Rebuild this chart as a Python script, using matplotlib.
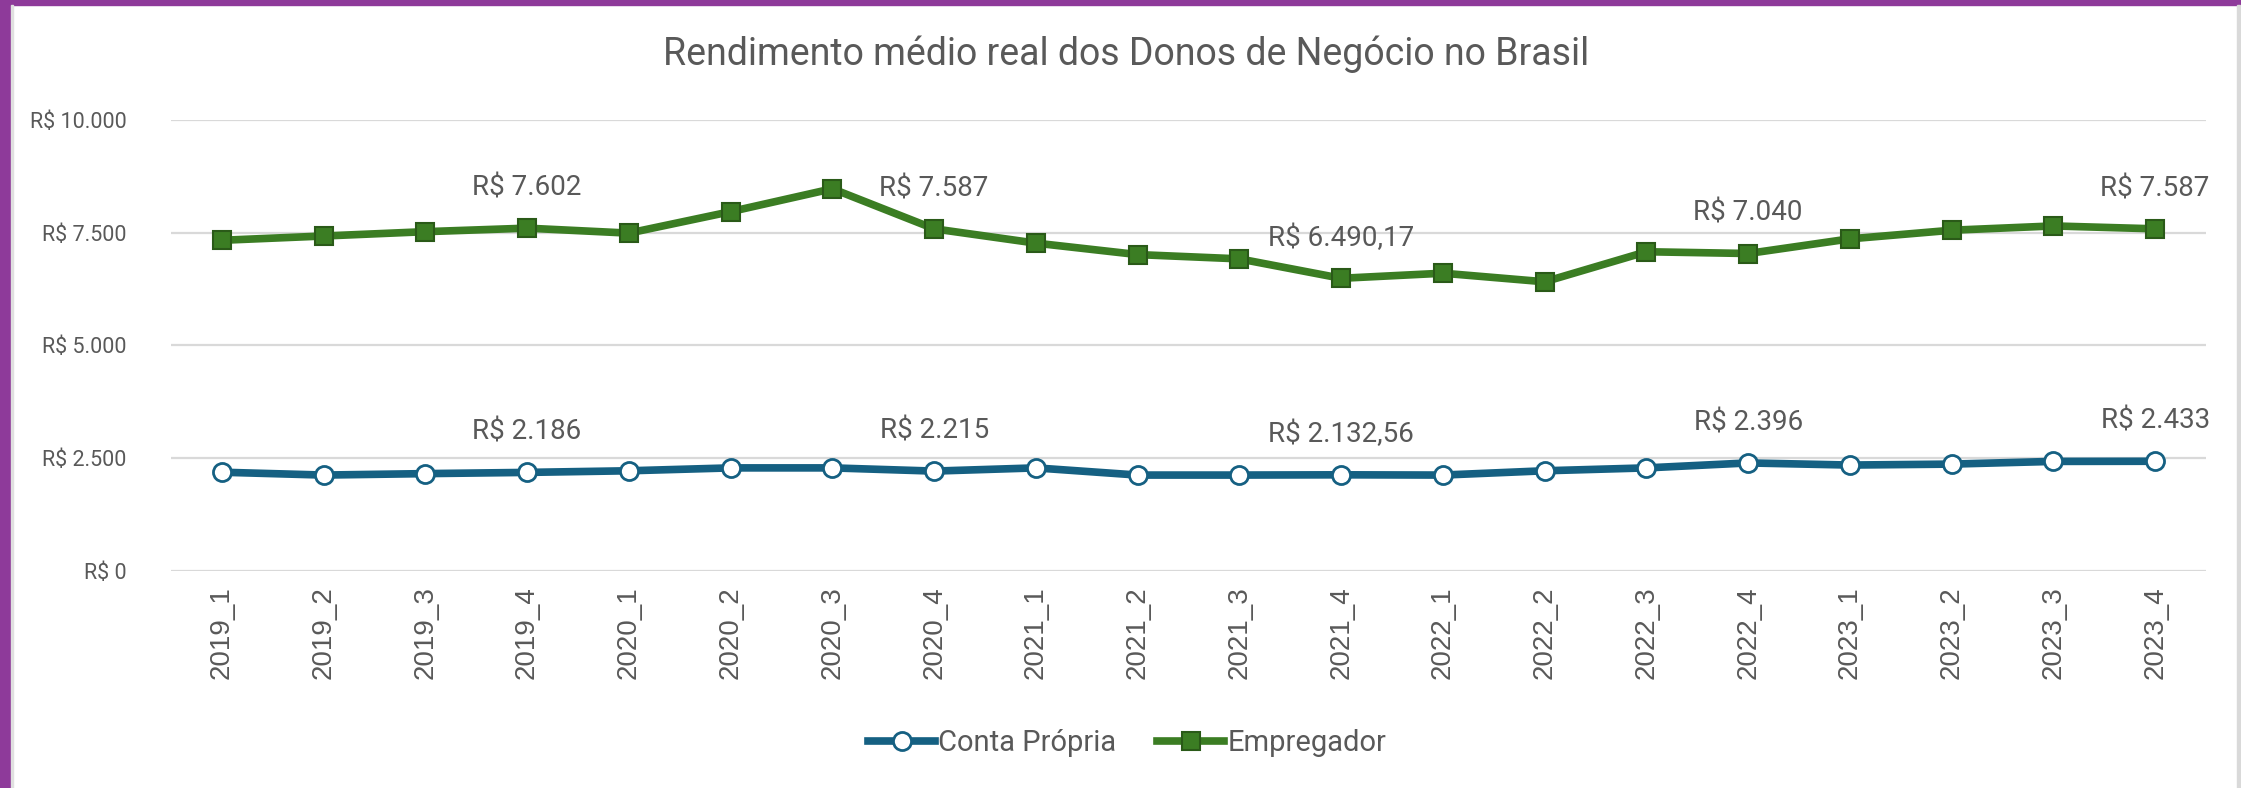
import matplotlib.pyplot as plt
from matplotlib.patches import Rectangle
from matplotlib.ticker import FuncFormatter

# data
periodos = ['2019_1', '2019_2', '2019_3', '2019_4', '2020_1', '2020_2', '2020_3', '2020_4',
            '2021_1', '2021_2', '2021_3', '2021_4', '2022_1', '2022_2', '2022_3', '2022_4',
            '2023_1', '2023_2', '2023_3', '2023_4']
conta_propria = [2190, 2127, 2159, 2186, 2222, 2286, 2286, 2215, 2286, 2127,
                 2127, 2132.56, 2127, 2222, 2286, 2396, 2349, 2370, 2430, 2433]
empregador = [7333, 7428, 7524, 7602, 7492, 7968, 8476, 7587, 7270, 7016,
              6921, 6490.17, 6603, 6413, 7079, 7040, 7365, 7556, 7651, 7587]
rotulos_idx = [3, 7, 11, 15, 19]

narrow = ['Roboto', 'DejaVu Sans']
cinza = '#595959'
azul = '#156082'
verde = '#3B7D23'


def brl(v):
    if v == int(v):
        s = f'{int(v):,}'.replace(',', '.')
    else:
        s = f'{v:,.2f}'.replace(',', 'X').replace('.', ',').replace('X', '.')
    return 'R$ ' + s


fig = plt.figure(figsize=(22.41, 7.88), dpi=100, facecolor='white')
ax = fig.add_axes([0.0763, 0.2754, 0.9081, 0.5723])

x = list(range(len(periodos)))
ax.plot(x, conta_propria, color=azul, lw=5.5, marker='o', ms=13,
        mfc='white', mec=azul, mew=2, label='Conta Própria', zorder=3)
ax.plot(x, empregador, color=verde, lw=5.5, marker='s', ms=13,
        mfc=verde, mec='#2A5A18', mew=1.5, label='Empregador', zorder=3)

for i in rotulos_idx:
    for serie in (conta_propria, empregador):
        ax.annotate(brl(serie[i]), (x[i], serie[i]), xytext=(0, 29),
                    textcoords='offset points', ha='center', va='center',
                    fontsize=20, color=cinza, family=narrow)

ax.set_xlim(-0.5, len(periodos) - 0.5)
ax.set_ylim(0, 10000)
ax.set_yticks([0, 2500, 5000, 7500, 10000])
ax.yaxis.set_major_formatter(FuncFormatter(lambda v, p: brl(v)))
ax.set_xticks(x)
ax.set_xticklabels(periodos, rotation=90, fontsize=20, color=cinza,
                   family='Liberation Sans')
for lab in ax.get_yticklabels():
    lab.set_family(narrow)
    lab.set_fontsize(15.5)
    lab.set_color(cinza)
ax.tick_params(axis='both', length=0)
ax.tick_params(axis='x', pad=11)
ax.tick_params(axis='y', pad=32)
ax.grid(axis='y', color='#D9D9D9', lw=1.6)
ax.set_axisbelow(True)
for s in ax.spines.values():
    s.set_visible(False)

fig.text(0.5026, 0.931, 'Rendimento médio real dos Donos de Negócio no Brasil',
         ha='center', va='center', fontsize=27, color=cinza, family=narrow)

leg = fig.legend(loc='center', bbox_to_anchor=(0.503, 0.057), ncol=2, frameon=False,
                 prop={'family': narrow, 'size': 21}, handlelength=2.3,
                 handletextpad=0.1, columnspacing=1.4)
for t in leg.get_texts():
    t.set_color(cinza)

# purple frame bits from the screenshot edges
W, H = 2241, 788
fig.add_artist(Rectangle((0, 1 - 5 / H), 1, 5 / H, transform=fig.transFigure,
                         color='#8E3A9A', zorder=0))
fig.add_artist(Rectangle((0, 0), 11 / W, 1, transform=fig.transFigure,
                         color='#8E3A9A', zorder=0))
fig.add_artist(Rectangle((11 / W, 0), 2 / W, 1 - 5 / H, transform=fig.transFigure,
                         color='#E0E0E0', zorder=0))
fig.add_artist(Rectangle((2237 / W, 0), 3 / W, 1 - 5 / H, transform=fig.transFigure,
                         color='#D9D9D9', zorder=0))

fig.savefig('out.png', dpi=100, facecolor='white')
